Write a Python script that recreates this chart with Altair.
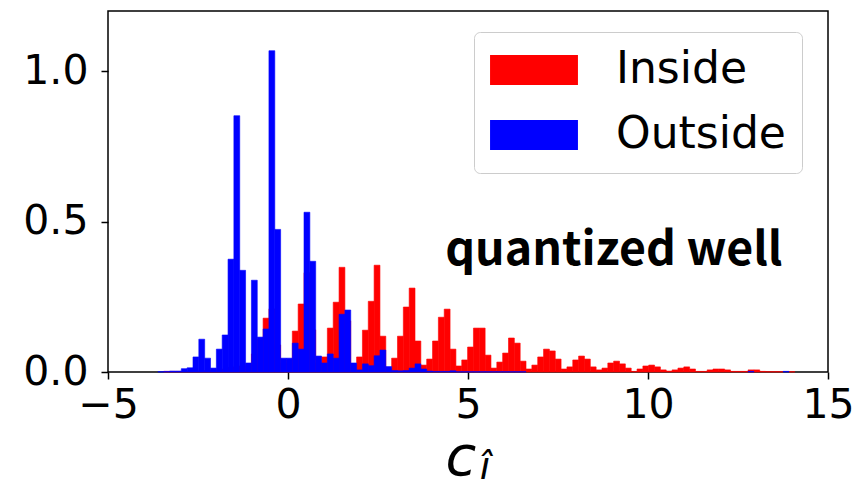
import numpy as np
import pandas as pd
import altair as alt

# Histogram bins: shared left edge and width for both samples
first_edge = -3.613
bin_width = 0.1623

# Density per bin, starting at first_edge (112 bins)
inside = [
    0.0, 0.002, 0.002, 0.002, 0.002, 0.003,
    0.003, 0.004, 0.005, 0.006, 0.008, 0.01, 0.015, 0.02, 0.02, 0.025,
    0.06, 0.11, 0.179, 0.21, 0.09, 0.03, 0.04, 0.136, 0.226, 0.33,
    0.14, 0.03, 0.05, 0.146, 0.232, 0.348, 0.17, 0.025, 0.05, 0.139,
    0.235, 0.355, 0.119, 0.012, 0.046, 0.119, 0.216, 0.279, 0.103, 0.023,
    0.043, 0.103, 0.182, 0.209, 0.076, 0.02, 0.04, 0.083, 0.146, 0.146,
    0.056, 0.013, 0.033, 0.063, 0.113, 0.096, 0.036, 0.01, 0.023, 0.05,
    0.076, 0.07, 0.043, 0.01, 0.017, 0.04, 0.053, 0.043, 0.017, 0.007,
    0.013, 0.03, 0.036, 0.027, 0.013, 0.002, 0.01, 0.02, 0.023, 0.017,
    0.007, 0.003, 0.007, 0.013, 0.017, 0.01, 0.002, 0.002, 0.007, 0.01,
    0.01, 0.007, 0.002, 0.002, 0.002, 0.007, 0.007, 0.002, 0.001, 0.001,
    0.001, 0.0, 0.001, 0.0, 0.0, 0.0,
]
outside = [
    0.001, 0.002, 0.003, 0.003, 0.011, 0.014,
    0.05, 0.109, 0.046, 0.013, 0.076, 0.123, 0.375, 0.852, 0.338, 0.03,
    0.305, 0.116, 0.143, 1.068, 0.474, 0.046, 0.046, 0.096, 0.076, 0.531,
    0.368, 0.053, 0.03, 0.06, 0.046, 0.192, 0.206, 0.03, 0.007, 0.027,
    0.021, 0.054, 0.073, 0.018, 0.005, 0.004, 0.005, 0.013, 0.027, 0.01,
    0.003, 0.002, 0.002, 0.002, 0.004, 0.001, 0.001, 0.001, 0.001, 0.001,
    0.001, 0.001, 0.001, 0.001, 0.001, 0.001, 0.001, 0.0, 0.0, 0.0,
    0.0, 0.0, 0.0, 0.0, 0.0, 0.0, 0.0, 0.0, 0.0, 0.0,
    0.0, 0.0, 0.0, 0.0, 0.0, 0.0, 0.0, 0.0, 0.0, 0.0,
    0.0, 0.0, 0.0, 0.0, 0.0, 0.0, 0.0, 0.0, 0.0, 0.0,
    0.0, 0.0, 0.0, 0.0, 0.0, 0.002, 0.0, 0.0, 0.0, 0.0,
    0.0, 0.002, 0.0, 0.0, 0.0, 0.0,
]
groups = ["Inside", "Outside"]
colors = ["#ff0000", "#0000ff"]
x_ticks = [-5, 0, 5, 10, 15]
y_ticks = [0.0, 0.5, 1.0]

rows = []
for name, vals in zip(groups, [inside, outside]):
    left = first_edge + bin_width * np.arange(len(vals))
    for lo, v in zip(left, vals):
        if v > 0:
            rows.append({"group": name, "lo": lo, "hi": lo + bin_width, "density": v})
hist = pd.DataFrame(rows)

FONT = "DejaVu Sans"
color_scale = alt.Scale(domain=groups, range=colors)

bars = alt.Chart(hist).mark_rect(strokeWidth=0.6).encode(
    x=alt.X("lo:Q", scale=alt.Scale(domain=[-5, 15], nice=False, zero=False),
            axis=alt.Axis(values=x_ticks, title=None, format="d", labelFlush=False,
                          labelPadding=6)),
    x2="hi:Q",
    y=alt.Y("density:Q", scale=alt.Scale(domain=[0, 1.2], nice=False),
            axis=alt.Axis(values=y_ticks, title=None, format=".1f", labelPadding=13)),
    y2=alt.datum(0),
    color=alt.Color(
        "group:N",
        scale=color_scale,
        legend=alt.Legend(
            title=None, orient="none", legendX=366, legendY=21,
            symbolType="M-2.93,-1H2.93V1H-2.93Z", symbolSize=900,
            symbolStrokeWidth=0, symbolOpacity=1, symbolOffset=22,
            labelFontSize=44, labelFont=FONT, labelColor="black", labelOffset=60,
            labelLimit=400,
            padding=16, rowPadding=21, strokeColor="#cccccc", fillColor="white",
            cornerRadius=6,
        ),
    ),
    stroke=alt.Stroke("group:N", scale=color_scale, legend=None),
    order=alt.Order("group:N"),
)

note = alt.Chart(pd.DataFrame({"x": [9.05], "y": [0.355], "t": ["quantized well"]})).mark_text(
    font="Noto Sans CJK JP", fontWeight="bold", fontSize=46.5, align="center",
    baseline="alphabetic", color="black",
).encode(x="x:Q", y="y:Q", text="t:N")

# x-axis label: c with hatted-i subscript
xlab_c = alt.Chart(pd.DataFrame({"t": ["c"]})).mark_text(
    font=FONT, fontStyle="italic", fontSize=56, align="center", baseline="alphabetic", color="black",
).encode(x=alt.value(353), y=alt.value(464), text="t:N")
xlab_i = alt.Chart(pd.DataFrame({"t": ["î"]})).mark_text(
    font=FONT, fontStyle="italic", fontSize=38, align="center", baseline="alphabetic", color="black",
).encode(x=alt.value(377), y=alt.value(468), text="t:N")

chart = alt.layer(bars, note, xlab_c, xlab_i).properties(
    width=720, height=361,
    autosize=alt.AutoSizeParams(type="none"),
    padding={"left": 108, "top": 11, "right": 38, "bottom": 110},
    background="white",
).configure_view(
    stroke="black", strokeWidth=1.5,
).configure_axis(
    grid=False, domain=False, ticks=True, tickColor="black", tickSize=7, tickWidth=1.5,
    labelFont=FONT, labelFontSize=41, labelColor="black",
)

chart.save("out.html", embed_options={"renderer": "svg", "actions": False})
